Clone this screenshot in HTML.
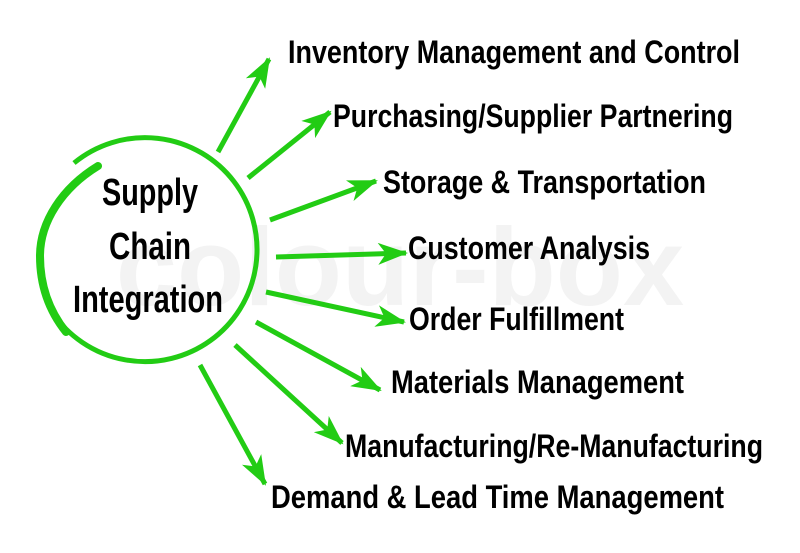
<!DOCTYPE html>
<html><head><meta charset="utf-8"><style>
html,body{margin:0;padding:0;background:#fff;}
svg{display:block}
text{font-family:"Liberation Sans",Arial,sans-serif;fill:#000;}
</style></head><body>
<svg width="800" height="553" viewBox="0 0 800 553" xmlns="http://www.w3.org/2000/svg">
<defs>
<marker id="ah" viewBox="0 0 30 22" refX="28" refY="11" markerWidth="30" markerHeight="22" markerUnits="userSpaceOnUse" orient="auto">
<path d="M0,0 L30,11 L0,22 L8,11 Z" fill="#22cc14"/>
</marker>
</defs>
<text x="400" y="305" font-size="110" font-weight="bold" text-anchor="middle" style="fill:#f3f3f3">colour-box</text>
<path d="M74,163 A112,112 0 1 1 52,312" fill="none" stroke="#22cc14" stroke-width="5"/>
<path d="M98,166 C62,188 40,222 40,256 C40,288 50,312 66,332" fill="none" stroke="#22cc14" stroke-width="8" stroke-linecap="round"/>
<g stroke="#22cc14" stroke-width="5" fill="none" marker-end="url(#ah)">
<line x1="218" y1="152" x2="269" y2="59"/>
<line x1="248" y1="178" x2="330" y2="112"/>
<line x1="270" y1="220" x2="376" y2="181"/>
<line x1="276" y1="257" x2="406" y2="253"/>
<line x1="266" y1="292" x2="404" y2="322"/>
<line x1="256" y1="322" x2="380" y2="390"/>
<line x1="235" y1="345" x2="342" y2="443"/>
<line x1="200" y1="365" x2="265" y2="484"/>
</g>
<g font-size="32" font-weight="bold">
<text x="288" y="63" textLength="452" lengthAdjust="spacingAndGlyphs">Inventory Management and Control</text>
<text x="333" y="127" textLength="400" lengthAdjust="spacingAndGlyphs">Purchasing/Supplier Partnering</text>
<text x="383" y="193" textLength="323" lengthAdjust="spacingAndGlyphs">Storage &amp; Transportation</text>
<text x="408" y="259" textLength="242" lengthAdjust="spacingAndGlyphs">Customer Analysis</text>
<text x="409" y="330" textLength="215" lengthAdjust="spacingAndGlyphs">Order Fulfillment</text>
<text x="391" y="393" textLength="293" lengthAdjust="spacingAndGlyphs">Materials Management</text>
<text x="345" y="457" textLength="418" lengthAdjust="spacingAndGlyphs">Manufacturing/Re-Manufacturing</text>
<text x="271" y="508" textLength="453" lengthAdjust="spacingAndGlyphs">Demand &amp; Lead Time Management</text>
</g>
<g font-size="38" font-weight="bold" text-anchor="middle">
<text x="150" y="205" textLength="96" lengthAdjust="spacingAndGlyphs">Supply</text>
<text x="150" y="259" textLength="82" lengthAdjust="spacingAndGlyphs">Chain</text>
<text x="148" y="312" textLength="150" lengthAdjust="spacingAndGlyphs">Integration</text>
</g>
</svg>
</body></html>
